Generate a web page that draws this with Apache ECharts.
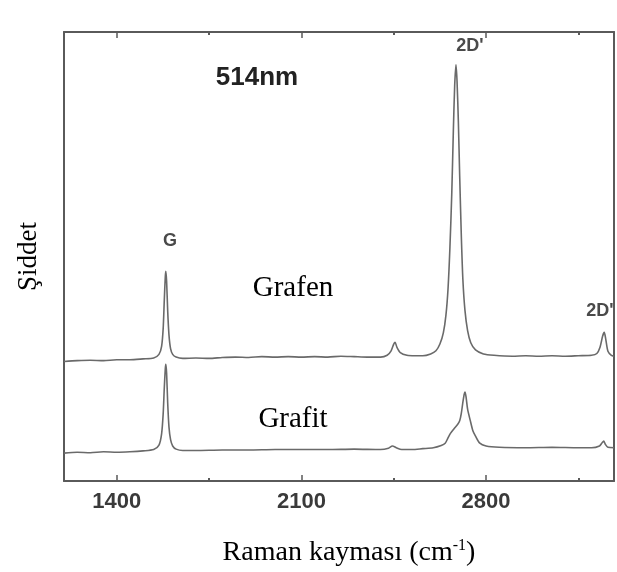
<!DOCTYPE html>
<html>
<head>
<meta charset="utf-8">
<script src="https://cdn.jsdelivr.net/npm/echarts@6/dist/echarts.min.js"></script>
<style>
  html, body { margin: 0; padding: 0; background: #fff; }
  #chart { width: 617px; height: 572px; }
</style>
</head>
<body>
<div id="chart"></div>
<script>
// Raman spectra (514 nm excitation): single-layer graphene vs. bulk graphite.
// Raman shift in cm^-1, intensity in arbitrary units (spectra are vertically offset).
const majorTicks = [1400, 2100, 2800];
const minorTicks = [1750, 2450, 3150];

const grafenShift = [
  1200, 1250, 1300, 1350, 1400, 1450, 1500, 1540, 1560, 1570, 1576, 1580, 1584, 1586, 1589,
  1593, 1598, 1604, 1612, 1625, 1650, 1700, 1750, 1800, 1850, 1900, 1950, 2000, 2050, 2100,
  2150, 2200, 2250, 2300, 2350, 2400, 2425, 2440, 2450, 2455, 2462, 2475, 2500, 2530, 2560,
  2590, 2610, 2625, 2638, 2648, 2656, 2663, 2670, 2676, 2681, 2686, 2690, 2695, 2700, 2706,
  2712, 2720, 2730, 2742, 2760, 2790, 2830, 2900, 2950, 3000, 3050, 3100, 3150, 3200, 3220,
  3232, 3242, 3248, 3254, 3262, 3275, 3285
];
const grafenIntensity = [
  26.6, 26.8, 26.9, 26.8, 27.0, 27.0, 27.2, 27.4, 28.2, 30.0, 34.0, 40.0, 45.5, 46.7, 44.5,
  38.0, 32.5, 29.5, 28.2, 27.6, 27.3, 27.4, 27.3, 27.5, 27.6, 27.5, 27.7, 27.6, 27.7, 27.6,
  27.7, 27.6, 27.8, 27.7, 27.6, 27.6, 28.0, 29.0, 30.5, 30.9, 29.8, 28.6, 28.0, 27.9, 27.9,
  28.3, 29.0, 30.5, 33.0, 37.0, 43.0, 52.0, 64.0, 78.0, 88.0, 92.7, 89.0, 80.0, 68.0, 55.0,
  45.0, 38.0, 33.5, 30.8, 29.2, 28.3, 28.0, 27.8, 27.9, 27.8, 27.9, 27.8, 27.9, 28.0, 28.4,
  29.8, 32.3, 33.1, 31.5, 28.9, 28.0, 27.8
];

const grafitShift = [
  1200, 1250, 1300, 1350, 1400, 1450, 1500, 1540, 1560, 1570, 1576, 1580, 1584, 1586, 1589,
  1593, 1598, 1604, 1612, 1625, 1650, 1700, 1800, 1900, 2000, 2100, 2200, 2300, 2400, 2430,
  2445, 2460, 2480, 2520, 2560, 2600, 2630, 2645, 2655, 2665, 2678, 2692, 2700, 2706, 2712,
  2717, 2720, 2724, 2730, 2740, 2750, 2760, 2775, 2800, 2850, 2950, 3050, 3150, 3200, 3230,
  3240, 3246, 3252, 3262, 3285
];
const grafitIntensity = [
  6.2, 6.4, 6.3, 6.5, 6.4, 6.5, 6.7, 7.0, 8.0, 10.5, 15.0, 20.5, 25.0, 26.0, 24.0,
  17.5, 12.0, 9.2, 7.8, 7.1, 6.8, 6.8, 6.9, 6.9, 7.0, 7.0, 7.0, 7.1, 7.0, 7.3,
  7.8, 7.4, 7.0, 7.0, 7.2, 7.4, 7.9, 8.4, 9.5, 10.6, 11.6, 12.6, 13.4, 15.0, 17.5,
  19.3, 19.8, 18.8, 16.0, 13.5, 11.2, 10.0, 8.5, 7.8, 7.5, 7.4, 7.5, 7.4, 7.4, 7.8,
  8.5, 8.9, 8.2, 7.5, 7.4
];

const pairs = (xs, ys) => xs.map((x, i) => [x, ys[i]]);

const frameColor = '#5a5a5a';
const lineColor = '#6a6a6a';
const sans = 'Liberation Sans, Arial, sans-serif';
const serif = 'Liberation Serif, Times New Roman, serif';
const xMin = 1200, xMax = 3285;

const hiddenAxisParts = {
  axisLabel: { show: false },
  splitLine: { show: false }
};

const chart = echarts.init(document.getElementById('chart'), null, { renderer: 'canvas' });

chart.setOption({
  animation: false,
  backgroundColor: '#ffffff',
  grid: { left: 64, right: 3, top: 32, bottom: 90, containLabel: false },
  xAxis: [
    {
      type: 'value', position: 'bottom', min: xMin, max: xMax,
      axisLine: { show: true, lineStyle: { color: frameColor, width: 2 } },
      axisTick: { show: true, inside: true, length: 6, customValues: majorTicks, lineStyle: { color: frameColor, width: 1.5 } },
      axisLabel: {
        show: true, customValues: majorTicks, margin: 10,
        formatter: v => String(v),
        color: '#3a3a3a', fontFamily: sans, fontSize: 22, fontWeight: 'bold'
      },
      splitLine: { show: false },
      name: 'Raman kayması (cm{sup|-1})',
      nameLocation: 'middle', nameGap: 57,
      nameTextStyle: {
        fontFamily: serif, fontSize: 28, color: '#000', padding: [0, 0, 0, 20],
        rich: { sup: { fontFamily: serif, fontSize: 16, color: '#000', verticalAlign: 'top', padding: [0, 0, 14, 0] } }
      }
    },
    Object.assign({
      type: 'value', position: 'bottom', min: xMin, max: xMax,
      axisLine: { show: false },
      axisTick: { show: true, inside: true, length: 3, customValues: minorTicks, lineStyle: { color: frameColor, width: 2 } }
    }, hiddenAxisParts),
    Object.assign({
      type: 'value', position: 'top', min: xMin, max: xMax,
      axisLine: { show: true, lineStyle: { color: frameColor, width: 2 } },
      axisTick: { show: true, inside: true, length: 6, customValues: majorTicks, lineStyle: { color: frameColor, width: 1.5 } }
    }, hiddenAxisParts),
    Object.assign({
      type: 'value', position: 'top', min: xMin, max: xMax,
      axisLine: { show: false },
      axisTick: { show: true, inside: true, length: 3, customValues: minorTicks, lineStyle: { color: frameColor, width: 2 } }
    }, hiddenAxisParts)
  ],
  yAxis: [
    {
      type: 'value', position: 'left', min: 0, max: 100,
      axisLine: { show: true, lineStyle: { color: frameColor, width: 2 } },
      axisTick: { show: false },
      axisLabel: { show: false },
      splitLine: { show: false },
      name: 'Şiddet', nameLocation: 'middle', nameGap: 22, nameRotate: 90,
      nameTextStyle: { fontFamily: serif, fontSize: 27, color: '#000' }
    },
    {
      type: 'value', position: 'right', min: 0, max: 100,
      axisLine: { show: true, lineStyle: { color: frameColor, width: 2 } },
      axisTick: { show: false },
      axisLabel: { show: false },
      splitLine: { show: false }
    }
  ],
  series: [
    {
      name: 'Grafen', type: 'line', xAxisIndex: 0, yAxisIndex: 0,
      data: pairs(grafenShift, grafenIntensity),
      showSymbol: false, smooth: 0.25,
      lineStyle: { color: lineColor, width: 1.6 }
    },
    {
      name: 'Grafit', type: 'line', xAxisIndex: 0, yAxisIndex: 0,
      data: pairs(grafitShift, grafitIntensity),
      showSymbol: false, smooth: 0.25,
      lineStyle: { color: lineColor, width: 1.6 }
    }
  ],
  graphic: [
    { type: 'text', x: 257, y: 78, style: { text: '514nm', font: 'bold 26px ' + sans, fill: '#222', align: 'center', verticalAlign: 'middle' } },
    { type: 'text', x: 470, y: 46, style: { text: "2D'", font: 'bold 18px ' + sans, fill: '#4a4a4a', align: 'center', verticalAlign: 'middle' } },
    { type: 'text', x: 170, y: 241, style: { text: 'G', font: 'bold 18px ' + sans, fill: '#4a4a4a', align: 'center', verticalAlign: 'middle' } },
    { type: 'text', x: 600, y: 311, style: { text: "2D'", font: 'bold 18px ' + sans, fill: '#4a4a4a', align: 'center', verticalAlign: 'middle' } },
    { type: 'text', x: 293, y: 288, style: { text: 'Grafen', font: '29px ' + serif, fill: '#000', align: 'center', verticalAlign: 'middle' } },
    { type: 'text', x: 293, y: 419, style: { text: 'Grafit', font: '29px ' + serif, fill: '#000', align: 'center', verticalAlign: 'middle' } }
  ]
});
</script>
</body>
</html>
